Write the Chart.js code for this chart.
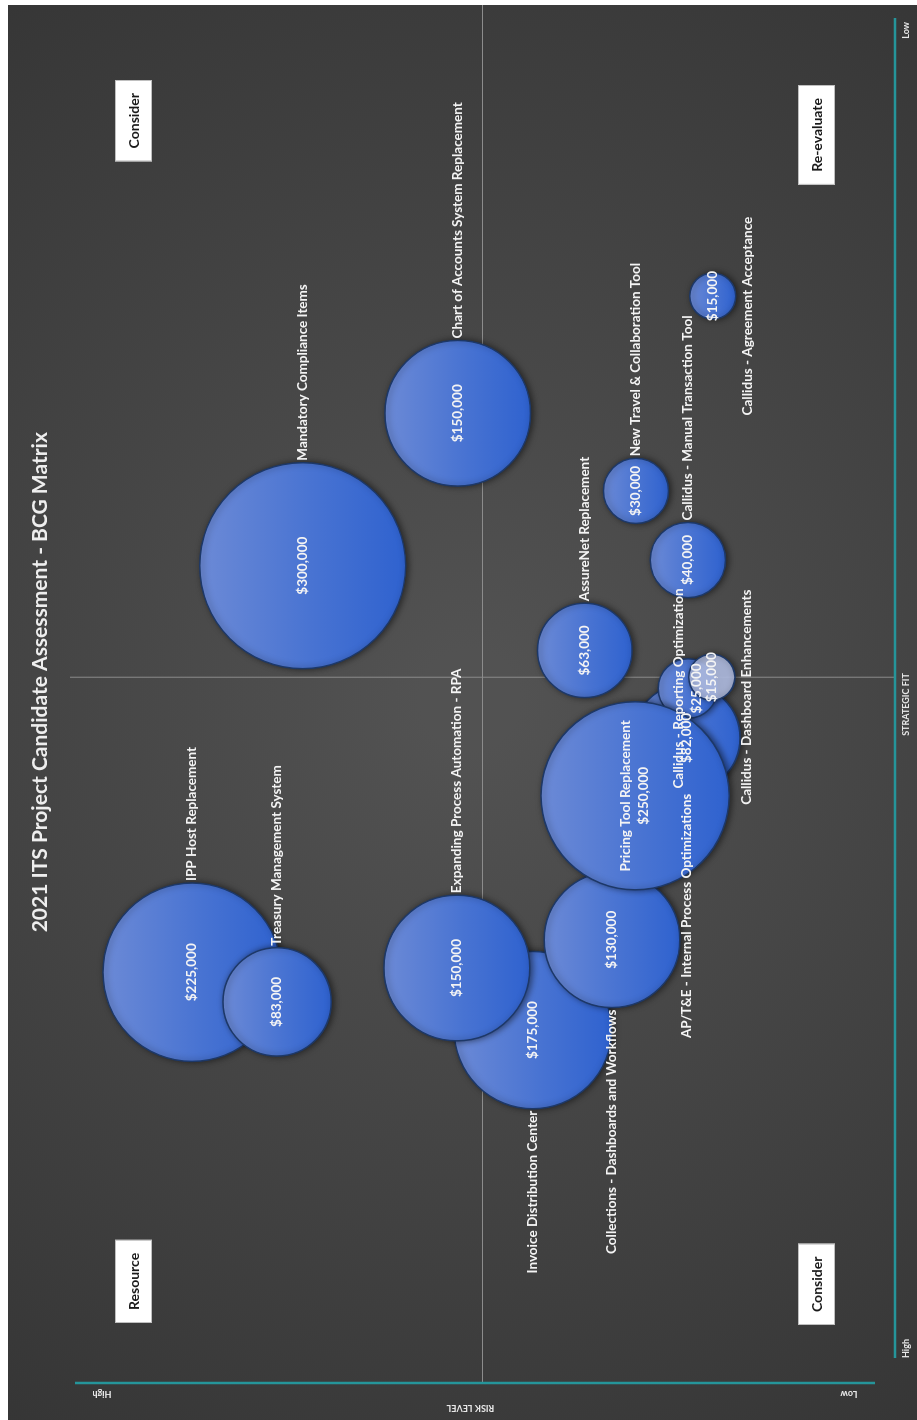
<!DOCTYPE html>
<html>
<head>
<meta charset="utf-8">
<script src="https://cdn.jsdelivr.net/npm/chart.js@4.4.0/dist/chart.umd.min.js"></script>
<style>
  html, body { margin: 0; padding: 0; background: #fff; overflow: hidden; }
  /* the chart is drawn landscape and turned a quarter left, like the reference */
  #wrap {
    position: absolute; left: 0; top: 0;
    width: 1420px; height: 917px;
    transform-origin: 0 0;
    transform: translateY(1420px) rotate(-90deg);
  }
</style>
</head>
<body>
<div id="wrap"><canvas id="bcg" width="1420" height="917"></canvas></div>
<script>
var title = "2021 ITS Project Candidate Assessment - BCG Matrix"

var projects = [
  "Mandatory Compliance Items",
  "Chart of Accounts System Replacement",
  "AssureNet Replacement",
  "New Travel & Collaboration Tool",
  "Callidus - Manual Transaction Tool",
  "Callidus - Agreement Acceptance",
  "IPP Host Replacement",
  "Treasury Management System",
  "Invoice Distribution Center",
  "Expanding Process Automation - RPA",
  "Collections - Dashboards and Workflows",
  "AP/T&E - Internal Process Optimizations",
  "Callidus - Reporting Optimization",
  "Pricing Tool Replacement",
  "Callidus - Dashboard Enhancements",
]
// strategic fit: 10 = high (left), risk level: 10 = high (top)
var strategicFit = [4.21, 3.13, 4.81, 3.68, 4.17, 2.30, 7.09, 7.30, 7.50, 7.06, 6.86, 5.43, 5.08, 5.84, 5.00]
var riskLevel    = [7.18, 5.30, 3.76, 3.14, 2.51, 2.21, 8.52, 7.49, 4.39, 5.31, 3.43, 2.53, 2.51, 3.15, 2.22]
var cost = [300000, 150000, 63000, 30000, 40000, 15000, 225000, 83000, 175000, 150000, 130000, 82000, 25000, 250000, 15000]

// where the project name sits next to its bubble
var labelSide = ["right", "right", "right", "right", "right", "below", "right", "right", "left", "right", "left", "left", "center", "center", "below"]
var fadedProject = "Callidus - Dashboard Enhancements"

var quadrants = ["Resource", "Consider", "Consider", "Re-evaluate"] // TL, TR, BL, BR
var xAxisTitle = "STRATEGIC FIT"
var yAxisTitle = "RISK LEVEL"
var axisEnds = ["High", "Low"]

var maxRadius = 103
var FONT = "Lato, 'Open Sans', sans-serif"

function money(v) {
  return "$" + v.toLocaleString("en-US")
}

var points = projects.map(function(name, i) {
  return {
    x: strategicFit[i],
    y: riskLevel[i],
    r: maxRadius * Math.sqrt(cost[i] / Math.max.apply(null, cost)),
  }
})

function bubbleFill(ctx) {
  var chart = ctx.chart
  var p = ctx.raw
  if (!p || !chart.scales.x) return "#4a74d2"
  if (projects[ctx.dataIndex] == fadedProject) return "rgba(185,198,236,0.85)"
  var cx = chart.scales.x.getPixelForValue(p.x)
  var cy = chart.scales.y.getPixelForValue(p.y)
  if (!isFinite(cx) || !isFinite(cy)) return "#4a74d2"
  var g = chart.ctx.createLinearGradient(cx, cy - p.r, cx, cy + p.r)
  g.addColorStop(0, "#6c8ad6")
  g.addColorStop(0.55, "#4873d2")
  g.addColorStop(1, "#2f62cf")
  return g
}

var overlay = {
  id: "overlay",
  beforeDraw: function(chart) {
    var c = chart.ctx
    c.save()
    c.fillStyle = "#ffffff"
    c.fillRect(0, 0, chart.width, chart.height)
    var g = c.createRadialGradient(720, 470, 50, 720, 470, 900)
    g.addColorStop(0, "#525252")
    g.addColorStop(1, "#343434")
    c.fillStyle = g
    c.fillRect(0, 8, 1415, 909)
    c.restore()
  },
  beforeDatasetsDraw: function(chart) {
    var c = chart.ctx
    var a = chart.chartArea
    var x = chart.scales.x, y = chart.scales.y
    var midX = x.getPixelForValue(5), midY = y.getPixelForValue(5)
    c.save()
    // quadrant lines
    c.strokeStyle = "#8c8c8c"
    c.lineWidth = 1
    c.beginPath()
    c.moveTo(midX, a.top); c.lineTo(midX, a.bottom)
    c.moveTo(a.left, midY); c.lineTo(chart.width - 5, midY)
    c.stroke()
    // axis lines
    c.strokeStyle = "#25959a"
    c.lineWidth = 2.5
    c.beginPath()
    c.moveTo(a.left + 25, a.bottom); c.lineTo(a.right, a.bottom)
    c.moveTo(a.left, a.top + 5); c.lineTo(a.left, a.bottom - 20)
    c.stroke()
    c.restore()
    // drop shadow for bubbles
    c.save()
    c.shadowColor = "rgba(0,0,0,0.5)"
    c.shadowBlur = 6
    c.shadowOffsetY = 2
  },
  afterDatasetsDraw: function(chart) {
    var c = chart.ctx
    c.restore()
    var a = chart.chartArea
    var x = chart.scales.x
    var meta = chart.getDatasetMeta(0)
    c.save()
    c.fillStyle = "#f4f4f4"
    c.textBaseline = "middle"
    c.font = "bold 13.5px " + FONT
    meta.data.forEach(function(el, i) {
      var r = el.options.radius
      var side = labelSide[i]
      if (side == "center") {
        c.textAlign = "center"
        c.fillText(projects[i], el.x, el.y - 9)
        c.fillText(money(cost[i]), el.x, el.y + 9)
        return
      }
      c.textAlign = "center"
      c.fillText(money(cost[i]), el.x, el.y)
      if (side == "right") {
        c.textAlign = "left"
        c.fillText(projects[i], el.x + r + 2, el.y)
      } else if (side == "left") {
        c.textAlign = "right"
        c.fillText(projects[i], el.x - r - 2, el.y)
      } else {
        c.textAlign = "center"
        c.fillText(projects[i], el.x - 20, el.y + r + 12)
      }
    })

    // title
    c.font = "bold 21px " + FONT
    c.textAlign = "center"
    c.fillStyle = "#eeeeee"
    c.fillText(title, x.getPixelForValue(5) - 5, 40)

    // quadrant boxes
    c.font = "bold 14px " + FONT
    var boxes = [
      [quadrants[0], a.left + 60, a.top + 45, "l"],
      [quadrants[1], a.right - 62, a.top + 45, "r"],
      [quadrants[2], a.left + 58, a.bottom - 60, "l"],
      [quadrants[3], a.right - 67, a.bottom - 60, "r"],
    ]
    boxes.forEach(function(b) {
      var w = c.measureText(b[0]).width + 26
      var h = 37
      var bx = b[3] == "l" ? b[1] : b[1] - w
      var by = b[2] < a.top + 200 ? b[2] : b[2] - h
      c.fillStyle = "#ffffff"
      c.fillRect(bx, by, w, h)
      c.strokeStyle = "#bfbfbf"
      c.lineWidth = 1
      c.strokeRect(bx + 0.5, by + 0.5, w - 1, h - 1)
      c.fillStyle = "#1a1a1a"
      c.textAlign = "center"
      c.fillText(b[0], bx + w / 2, by + h / 2 + 1)
    })

    // axis end labels
    c.fillStyle = "#e8e8e8"
    c.font = "bold 9px " + FONT
    c.textAlign = "left"
    c.fillText(axisEnds[0], a.left + 25, a.bottom + 11)
    c.textAlign = "right"
    c.fillText(axisEnds[1], a.right - 4, a.bottom + 11)
    c.textAlign = "center"
    c.fillText(xAxisTitle, (a.left + a.right) / 2 - 4, a.bottom + 11)
    var vy = [[axisEnds[0], a.top + 32], [yAxisTitle, (a.top + a.bottom) / 2 - 12], [axisEnds[1], a.bottom - 46]]
    vy.forEach(function(t) {
      c.save()
      c.translate(t[0] == yAxisTitle ? 12 : 26, t[1])
      c.rotate(-Math.PI / 2)
      c.fillText(t[0], 0, 0)
      c.restore()
    })
    c.restore()
  },
}

var chart = new Chart(document.getElementById("bcg"), {
  type: "bubble",
  data: {
    datasets: [{
      label: "Projects",
      data: points,
      backgroundColor: bubbleFill,
      borderColor: "#1d3868",
      borderWidth: 1.5,
    }],
  },
  options: {
    responsive: false,
    animation: false,
    devicePixelRatio: 1,
    layout: { autoPadding: false, padding: { left: 37, right: 18, top: 70, bottom: 22 } },
    scales: {
      x: { display: false, reverse: true, min: 0.33, max: 10 },
      y: { display: false, min: 0, max: 10 },
    },
    plugins: {
      legend: { display: false },
      tooltip: { enabled: false },
      title: { display: false },
    },
    clip: false,
  },
  plugins: [overlay],
})
</script>
</body>
</html>
